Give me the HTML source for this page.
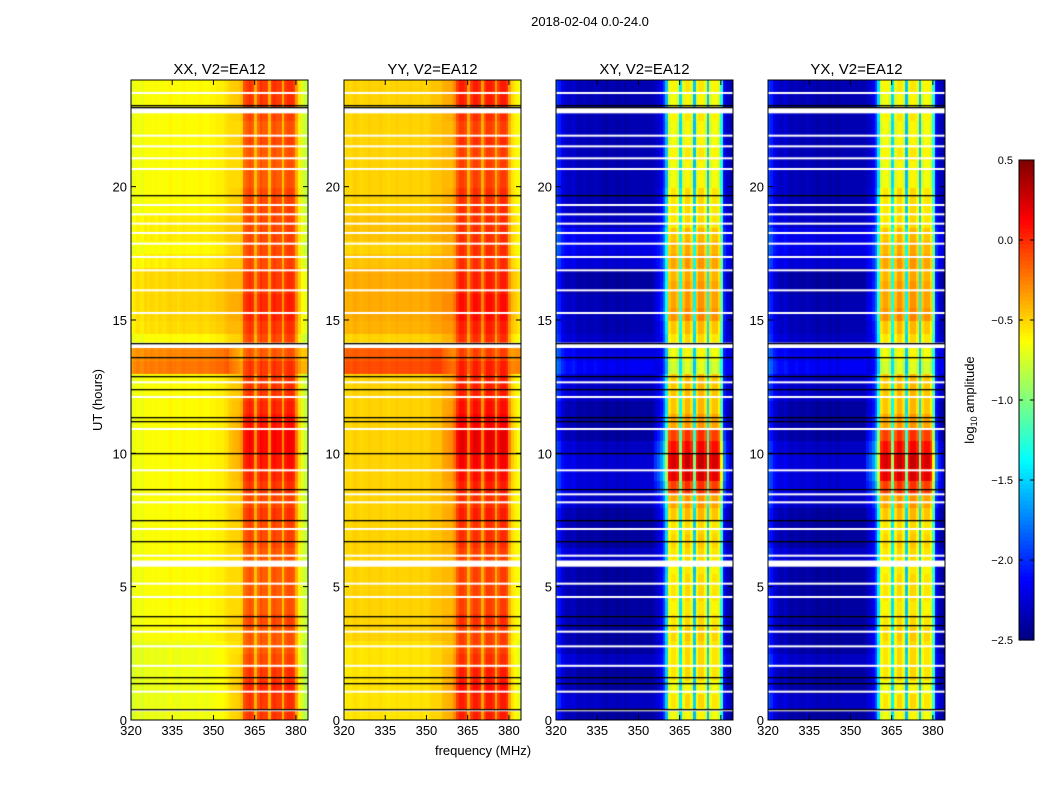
<!DOCTYPE html>
<html><head><meta charset="utf-8">
<style>
html,body{margin:0;padding:0;background:#fff;}
body{width:1050px;height:800px;position:relative;overflow:hidden;font-family:"Liberation Sans",sans-serif;}
</style></head>
<body>
<svg id="fig" width="1050" height="800" style="position:absolute;left:0;top:0" xmlns="http://www.w3.org/2000/svg" font-family="Liberation Sans, sans-serif">
<text x="590" y="26" font-size="13" text-anchor="middle">2018-02-04 0.0-24.0</text>
<text x="102" y="400" font-size="13" text-anchor="middle" transform="rotate(-90 102 400)">UT (hours)</text>
<text x="483" y="755" font-size="13" text-anchor="middle">frequency (MHz)</text>
<g id="panels"></g>
<g id="cbar"></g>
<text x="974" y="400" font-size="13" text-anchor="middle" transform="rotate(-90 974 400)">log<tspan font-size="9" dy="3">10</tspan><tspan dy="-3"> amplitude</tspan></text>
</svg>
<script>
// ---- data ----
const panelTitles = ["XX, V2=EA12","YY, V2=EA12","XY, V2=EA12","YX, V2=EA12"];
const freqTicks = [320,335,350,365,380];
const timeTicks = [0,5,10,15,20];
const cbarTicks = [0.5,0.0,-0.5,-1.0,-1.5,-2.0,-2.5];
// frequency profile (1 MHz bins, 320..385) per panel, log10 amplitude
const profXX = [-0.72,-0.68,-0.64,-0.66,-0.68,-0.62,-0.65,-0.62,-0.63,-0.66,-0.62,-0.63,-0.65,-0.62,-0.6,-0.63,-0.62,-0.64,-0.62,-0.6,-0.62,-0.62,-0.62,-0.63,-0.62,-0.6,-0.62,-0.63,-0.62,-0.6,-0.6,-0.58,-0.58,-0.58,-0.55,-0.52,-0.52,-0.52,-0.52,-0.52,-0.5,-0.2,-0.15,-0.1,-0.15,-0.45,-0.2,-0.1,-0.15,-0.15,-0.45,-0.15,-0.1,-0.15,-0.15,-0.45,-0.15,-0.1,-0.1,-0.15,-0.4,-0.6,-0.75,-0.8,-0.8];
const profYY = [-0.55,-0.5,-0.52,-0.5,-0.48,-0.5,-0.52,-0.5,-0.5,-0.48,-0.5,-0.5,-0.5,-0.48,-0.5,-0.5,-0.52,-0.5,-0.5,-0.48,-0.5,-0.5,-0.5,-0.5,-0.48,-0.5,-0.5,-0.5,-0.48,-0.5,-0.5,-0.48,-0.45,-0.45,-0.45,-0.45,-0.42,-0.42,-0.42,-0.42,-0.35,-0.15,-0.05,-0.05,-0.1,-0.4,-0.15,-0.05,-0.05,-0.1,-0.4,-0.15,-0.05,-0.05,-0.1,-0.4,-0.15,-0.05,-0.05,-0.1,-0.4,-0.55,-0.6,-0.65,-0.65];
const profXY = [-2.0,-2.1,-2.25,-2.3,-2.35,-2.35,-2.3,-2.35,-2.4,-2.4,-2.35,-2.4,-2.4,-2.4,-2.35,-2.4,-2.4,-2.4,-2.45,-2.4,-2.4,-2.4,-2.45,-2.4,-2.4,-2.45,-2.4,-2.4,-2.4,-2.4,-2.4,-2.4,-2.4,-2.4,-2.4,-2.4,-2.35,-2.3,-2.2,-2.0,-1.6,-0.75,-0.65,-0.65,-0.75,-1.5,-0.75,-0.6,-0.6,-0.75,-1.6,-0.75,-0.6,-0.6,-0.75,-1.6,-0.75,-0.65,-0.65,-0.8,-1.3,-2.2,-2.35,-2.4,-2.4];
const profYX = [-2.0,-2.1,-2.25,-2.3,-2.35,-2.35,-2.3,-2.35,-2.4,-2.4,-2.35,-2.4,-2.4,-2.4,-2.35,-2.4,-2.4,-2.4,-2.45,-2.4,-2.4,-2.4,-2.45,-2.4,-2.4,-2.45,-2.4,-2.4,-2.4,-2.4,-2.4,-2.4,-2.4,-2.4,-2.4,-2.4,-2.35,-2.3,-2.2,-2.0,-1.5,-0.75,-0.65,-0.65,-0.75,-1.5,-0.75,-0.6,-0.6,-0.75,-1.6,-0.75,-0.6,-0.6,-0.75,-1.6,-0.75,-0.65,-0.65,-0.8,-1.3,-2.2,-2.35,-2.4,-2.4];
// band weight per frequency bin
const bandWeight = [0,0,0,0,0,0,0,0,0,0,0,0,0,0,0,0,0,0,0,0,0,0,0,0,0,0,0,0,0,0,0,0,0,0,0,0,0.3,0.4,0.5,0.6,0.8,1,1,1,1,0.6,1,1,1,1,0.6,1,1,1,1,0.6,1,1,1,1,0.7,0.4,0.2,0,0];
// modulation per half hour (48 values, 0..24 h)
const bandModPar = [0.1,0.1,0.15,0.1,0.05,0.0,0.0,0.05,0.0,0.0,0.0,0.0,0.0,0.05,0.05,0.1,0.05,0.1,0.15,0.2,0.25,0.25,0.2,0.15,0.1,0.1,0.1,0.0,0.05,0.1,0.15,0.15,0.1,0.1,0.05,0.05,0.05,0.05,0.05,0.05,0.0,0.0,0.0,0.05,0.0,0.05,0.1,0.1];
const lowModPar = [-0.05,-0.05,-0.05,-0.05,-0.05,-0.05,0,0,0,0,0,0,0,0,0,0,0,0,0,0,0,0,0,0,0,0,0.4,0.35,0,0.1,0.12,0.12,0.12,0.12,0.05,0.0,0.05,0.05,0,0,0,0,0,0,0,0,0,0];
const bandModCross = [0.0,0.1,0.0,0.1,0.1,0.1,0.15,0.1,0.05,0.1,0.1,0.05,0.1,0.15,0.1,0.2,0.3,0.6,0.85,0.9,0.75,0.6,0.3,0.2,0.2,0.2,-0.1,0.0,0.1,0.2,0.35,0.3,0.3,0.25,0.3,0.25,0.2,0.1,0.1,0.1,0.0,0.0,0.05,0.0,0.0,0.05,0.0,0.05];
const lowModCross = [0,0.1,0,0,0.1,0,0,0,0,0,0,0,0.1,0,0,0,0.1,0.15,0.15,0.15,0.1,0,0,0,0.1,0.1,0.25,0.2,0.1,0.05,0.05,0.05,0,0,0.15,0.2,0.2,0.1,0.05,0.05,0.05,0.05,0.05,0.05,0.05,0.05,0.05,0.05];
// flagged (white) intervals in hours
const flagStart = [0.35,1.05,2.0,2.75,3.3,4.6,5.1,5.75,6.15,7.15,8.15,8.45,9.35,10.9,12.1,12.65,13.95,15.25,16.1,16.85,17.35,17.85,18.25,18.6,18.95,19.3,20.65,21.05,21.5,21.9,22.75,23.5];
const flagEnd   = [0.4,1.1,2.07,2.8,3.35,4.65,5.15,5.98,6.2,7.2,8.2,8.5,9.4,10.95,12.15,12.7,14.15,15.3,16.15,16.9,17.4,17.9,18.3,18.65,19.0,19.35,20.7,21.1,21.55,21.95,22.95,23.55];
// black rows (hours)
const blackRows = [0.4,1.4,1.6,3.55,3.9,6.7,7.5,8.65,10.0,11.2,11.35,12.4,12.9,13.6,14.15,19.7,23.0,23.05];

// ---- layout ----
const panelX = [131,344,556,768], PW=177, PT=80, PB=720;
const fmin=320, fmax=384.4, tmax=24;
const xs = (f,px)=>px+(f-fmin)/(fmax-fmin)*PW;
const ys = t=>PB-t/tmax*(PB-PT);
const NS="http://www.w3.org/2000/svg";
function jet(v){
  let x=(v+2.5)/3; x=Math.max(0,Math.min(1,x));
  const r=Math.max(0,Math.min(1,1.5-Math.abs(4*x-3)));
  const g=Math.max(0,Math.min(1,1.5-Math.abs(4*x-2)));
  const b=Math.max(0,Math.min(1,1.5-Math.abs(4*x-1)));
  return `rgb(${r*255|0},${g*255|0},${b*255|0})`;
}
function el(tag,attrs,parent){const e=document.createElementNS(NS,tag);for(const k in attrs)e.setAttribute(k,attrs[k]);parent.appendChild(e);return e;}
const profs=[profXX,profYY,profXY,profYX];
const panelsG=document.getElementById('panels');
panelTitles.forEach((title,p)=>{
  const px=panelX[p];
  const g=el('g',{},panelsG);
  
  
  const fo=el('foreignObject',{x:px,y:PT,width:PW,height:PB-PT},g);
  const cv=document.createElement('canvas');cv.width=PW;cv.height=PB-PT;
  
  
  fo.appendChild(cv);
  const ctx=cv.getContext('2d');
  const prof=profs[p];
  const cross=p>=2;
  const bm=cross?bandModCross:bandModPar, lm=cross?lowModCross:lowModPar;
  const dt=0.25;
  for(let ti=0;ti<tmax/dt;ti++){
    const t=ti*dt, hi=Math.floor(t/0.5);
    for(let fi=0;fi<prof.length;fi++){
      const w=bandWeight[fi];
      const v=prof[fi]+w*bm[hi]+(1-w)*lm[hi];
      const x0=xs(fmin+fi,0), x1=xs(fmin+fi+1,0);
      ctx.fillStyle=jet(v);
      ctx.fillRect(Math.floor(x0),Math.floor(ys(t+dt)-PT),Math.ceil(x1-x0)+1,Math.ceil(ys(t)-ys(t+dt))+1);
    }
  }
  ctx.fillStyle='#fff';
  flagStart.forEach((s,i)=>{const y0=ys(flagEnd[i])-PT,y1=ys(s)-PT;ctx.fillRect(0,y0,PW,Math.max(2,y1-y0));});
  ctx.fillStyle='#000';
  blackRows.forEach(t=>{ctx.fillRect(0,Math.round(ys(t)-PT),PW,1.3);});
  el('rect',{x:px,y:PT,width:PW,height:PB-PT,fill:'none',stroke:'#000','stroke-width':1},g);
  const tt=el('text',{x:px+PW/2,y:PT-6,'font-size':15,'text-anchor':'middle'},g);tt.textContent=title;
  
  
  freqTicks.forEach(f=>{
    const x=xs(f,px);
    el('line',{x1:x,x2:x,y1:PB,y2:PB-5,stroke:'#000'},g);
    el('line',{x1:x,x2:x,y1:PT,y2:PT+5,stroke:'#000'},g);
    const l=el('text',{x:x,y:PB+15,'font-size':13,'text-anchor':'middle'},g);l.textContent=f;
    
    
  });
  timeTicks.forEach(t=>{
    const y=ys(t);
    el('line',{x1:px,x2:px+5,y1:y,y2:y,stroke:'#000'},g);
    el('line',{x1:px+PW,x2:px+PW-5,y1:y,y2:y,stroke:'#000'},g);
    const l=el('text',{x:px-4,y:y+5,'font-size':13,'text-anchor':'end'},g);l.textContent=t;
    
    
  });
});
// colorbar
const cb=document.getElementById('cbar');
const CX=1019,CW=15,CT=160,CB=640;
const cg=el('g',{},cb);


for(let i=0;i<120;i++){
  const v=-2.5+3*(i+0.5)/120;
  const y=CB-(i+1)*(CB-CT)/120;
  el('rect',{x:CX,y:y,width:CW,height:(CB-CT)/120+0.6,fill:jet(v)},cg);
}
el('rect',{x:CX,y:CT,width:CW,height:CB-CT,fill:'none',stroke:'#000'},cg);
cbarTicks.forEach(v=>{
  const y=CB-(v+2.5)/3*(CB-CT);
  el('line',{x1:CX,x2:CX+4,y1:y,y2:y,stroke:'#000'},cg);
  el('line',{x1:CX+CW,x2:CX+CW-4,y1:y,y2:y,stroke:'#000'},cg);
  const l=el('text',{x:CX-6,y:y+4,'font-size':11,'text-anchor':'end'},cg);l.textContent=(v<0?'\u2212':'')+Math.abs(v).toFixed(1);
  
  
});
</script>
</body></html>
